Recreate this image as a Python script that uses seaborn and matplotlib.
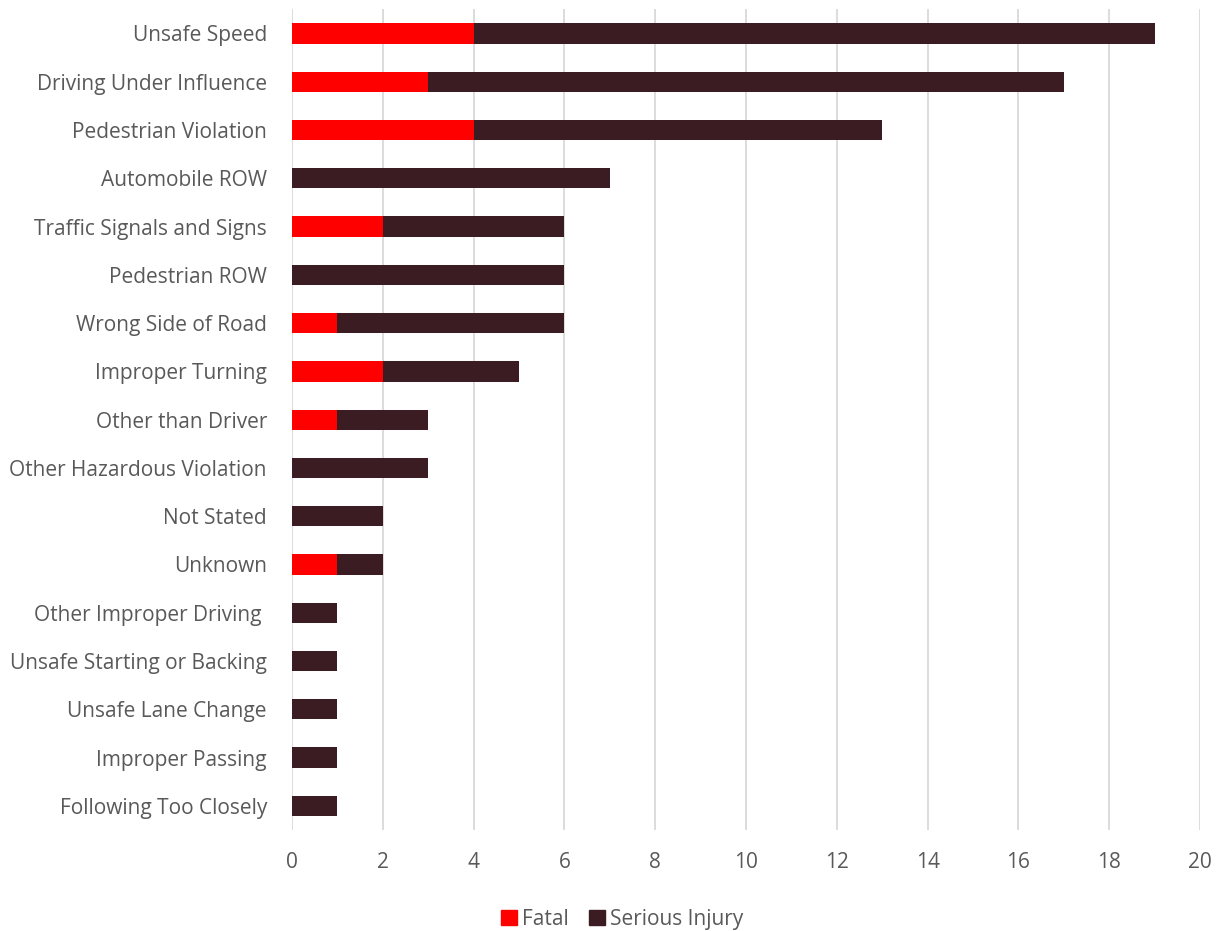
import matplotlib
matplotlib.use("Agg")
import matplotlib.pyplot as plt
import seaborn as sns
import pandas as pd
from matplotlib.patches import Patch

categories = [
    "Unsafe Speed", "Driving Under Influence", "Pedestrian Violation",
    "Automobile ROW", "Traffic Signals and Signs", "Pedestrian ROW",
    "Wrong Side of Road", "Improper Turning", "Other than Driver",
    "Other Hazardous Violation", "Not Stated", "Unknown",
    "Other Improper Driving ", "Unsafe Starting or Backing",
    "Unsafe Lane Change", "Improper Passing", "Following Too Closely",
]
fatal = [4, 3, 4, 0, 2, 0, 1, 2, 1, 0, 0, 1, 0, 0, 0, 0, 0]
serious_injury = [15, 14, 9, 7, 4, 6, 5, 3, 2, 3, 2, 1, 1, 1, 1, 1, 1]

RED = "#FF0000"
DARK = "#3B1C23"
TEXT = "#595959"

df = pd.DataFrame({"cause": categories, "fatal": fatal, "serious": serious_injury})
df["total"] = df["fatal"] + df["serious"]

sns.set_style("white")
plt.rcParams["font.family"] = ["Open Sans", "DejaVu Sans"]

fig = plt.figure(figsize=(12.2, 9.31), dpi=100)
ax = fig.add_axes([0.2393, 0.1085, 0.7443, 0.8815])

# stacked: draw total in dark, fatal part on top in red
sns.barplot(data=df, x="total", y="cause", color=DARK, width=0.42,
            saturation=1, linewidth=0, ax=ax, zorder=2)
sns.barplot(data=df, x="fatal", y="cause", color=RED, width=0.42,
            saturation=1, linewidth=0, ax=ax, zorder=3)

ax.set_xlim(0, 20)
ax.set_xticks(range(0, 21, 2))
ax.set_xlabel("")
ax.set_ylabel("")
ax.xaxis.grid(True, color="#D9D9D9", linewidth=1.3, zorder=0)
ax.set_axisbelow(True)
for s in ax.spines.values():
    s.set_visible(False)
ax.tick_params(axis="both", length=0, labelsize=15, labelcolor=TEXT)
ax.tick_params(axis="x", pad=16)
ax.tick_params(axis="y", pad=18)

handles = [Patch(color=RED, label="Fatal"), Patch(color=DARK, label="Serious Injury")]
fig.legend(handles=handles, loc="lower center", bbox_to_anchor=(0.51, -0.019),
           ncol=2, frameon=False, fontsize=15, labelcolor=TEXT,
           handlelength=0.75, handleheight=0.75, handletextpad=0.25, columnspacing=1.0)

fig.savefig("out.png", dpi=100)
